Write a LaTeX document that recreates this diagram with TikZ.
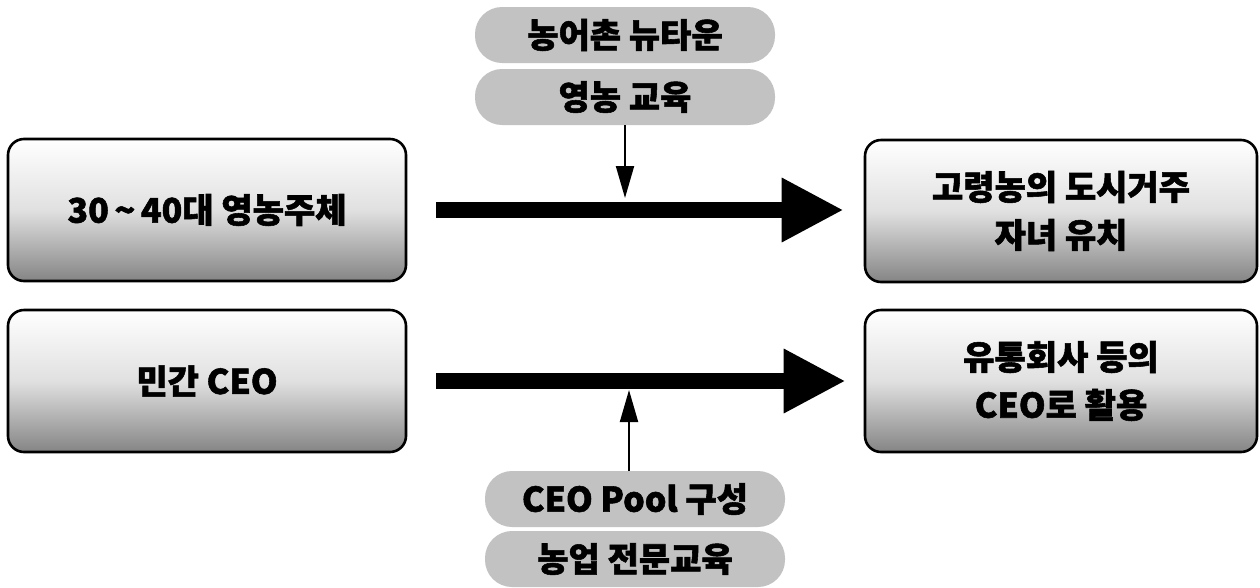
\documentclass[tikz,border=0pt]{standalone}
\usepackage{fontspec}
\newfontfamily\kr{Noto Sans CJK KR}[BoldFeatures={FakeBold=1.6}]
\usetikzlibrary{arrows.meta,calc}
\tikzset{
  mainbox/.style={draw=black, line width=2.6pt, rounded corners=16pt,
    top color=white, bottom color=black!48, middle color=black!12,
    minimum height=142pt, align=center, inner sep=0pt,
    font=\kr\bfseries\fontsize{34}{48}\selectfont},
  pill/.style={fill=black!24, rounded corners=27pt, minimum height=56pt,
    minimum width=300pt, inner sep=0pt,
    font=\kr\bfseries\fontsize{34}{36}\selectfont},
  bigarrow/.style={line width=16pt, draw=black,
    -{Triangle[length=62pt,width=60pt]}},
  thinarrow/.style={line width=2pt, draw=black,
    -{Triangle[length=32pt,width=18pt]}}
}
\begin{document}
\begin{tikzpicture}[x=1pt,y=-1pt]
\useasboundingbox (0,0) rectangle (1260,587);
% boxes
\node[mainbox, minimum width=398pt] (a) at (207,210) {30\,\textasciitilde\,40대 영농주체};
\node[mainbox, minimum width=398pt] (b) at (207,381) {민간 CEO};
\node[mainbox, minimum width=392pt] (c) at (1061,211) {고령농의 도시거주\\자녀 유치};
\node[mainbox, minimum width=392pt] (d) at (1061,381) {유통회사 등의\\CEO로 활용};
% pills
\node[pill] (p1) at (625,35) {농어촌 뉴타운};
\node[pill] (p2) at (625,97) {영농 교육};
\node[pill] (p3) at (635,499) {CEO Pool 구성};
\node[pill] (p4) at (635,559) {농업 전문교육};
% thick arrows
\draw[bigarrow, shorten <=29pt, shorten >=20pt] (a.east) -- (c.west |- a.east);
\draw[bigarrow, shorten <=29pt, shorten >=18pt] (b.east) -- (d.west |- b.east);
% thin arrows
\coordinate (t1) at (625,198);
\coordinate (t2) at (629,390);
\draw[thinarrow] (p2.south) -- (t1);
\draw[thinarrow] (t2 |- p3.north) -- (t2);
\end{tikzpicture}
\end{document}
